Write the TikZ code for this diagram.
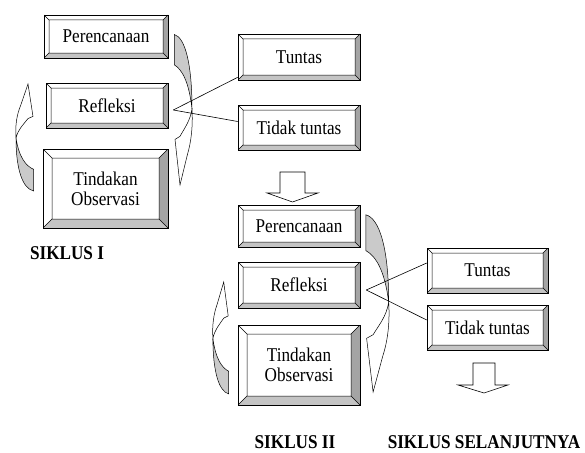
\documentclass[tikz,border=0pt]{standalone}
\usepackage{fontspec}
\setmainfont[FakeStretch=0.88]{Liberation Serif}
\usetikzlibrary{positioning}

\definecolor{bevelside}{HTML}{A4A4A4}
\definecolor{bevelbase}{HTML}{C4C4C4}
\definecolor{bendgray}{HTML}{CACACA}

\begin{document}
\begin{tikzpicture}[x=1pt, y=-1pt]
        % Define styles
        \tikzset{
            box/.style={draw, fill=white, line width=0.6pt, inner sep=0pt, align=center,
                font=\fontsize{19.5}{20}\selectfont},
            bevel/.style={path picture={
                \coordinate (bvnw) at (path picture bounding box.north west);
                \coordinate (bvne) at (path picture bounding box.north east);
                \coordinate (bvse) at (path picture bounding box.south east);
                \coordinate (bvsw) at (path picture bounding box.south west);
                \coordinate (innw) at ([shift={(#1,-#1)}]bvnw);
                \coordinate (inne) at ([shift={(-#1,-#1)}]bvne);
                \coordinate (inse) at ([shift={(-#1,#1)}]bvse);
                \coordinate (insw) at ([shift={(#1,#1)}]bvsw);
                \fill[bevelside] (bvne) -- (bvse) -- (inse) -- (inne) -- cycle;
                \fill[bevelbase] (bvsw) -- (bvse) -- (inse) -- (insw) -- cycle;
                \draw[line width=0.5pt] (innw) rectangle (inse)
                    (bvnw) -- (innw) (bvne) -- (inne) (bvse) -- (inse) (bvsw) -- (insw);
            }},
            cyclelabel/.style={font=\fontsize{19.5}{20}\selectfont\bfseries, inner sep=0pt},
            link/.style={line width=0.6pt},
            downarrow/.style={draw, fill=white, line width=0.6pt},
            bendarrow/.pic={
                \filldraw[fill=bendgray, line width=0.5pt] (0.07,0.01) .. controls (0.6,0.03) and (0.95,0.2) .. (0.95,0.5)
                    .. controls (0.8,0.32) and (0.45,0.24) .. (0.07,0.21) -- cycle;
                \filldraw[fill=white, line width=0.5pt] (0.95,0.5) .. controls (1.0,0.62) and (0.9,0.72) .. (0.72,0.8)
                    -- (0.35,1) -- (0.1,0.7) -- (0.35,0.68) .. controls (0.6,0.62) and (0.85,0.58) .. cycle;
            }
        }
        \useasboundingbox (0,0) rectangle (585,452);
        % Siklus I
        \node[box, bevel=5pt, minimum width=124pt, minimum height=43pt] (plan1) at (106,36.5) {Perencanaan};
        \node[box, bevel=5pt, minimum width=122pt, minimum height=45pt] (refl1) at (107,105.5) {Refleksi};
        \node[box, bevel=9pt, minimum width=125pt, minimum height=79pt] (act1) at (105.5,188.5) {Tindakan\\Observasi};
        \node[box, bevel=5pt, minimum width=122pt, minimum height=46pt] (tuntas1) at (299,57) {Tuntas};
        \node[box, bevel=5pt, minimum width=122pt, minimum height=45pt] (tidak1) at (299,127.5) {Tidak tuntas};
        \node[cyclelabel] (siklus1) at (67,253.5) {SIKLUS I};
        % curved arrows of the cycle
        \pic[shift={(173,33)}, xscale=20, yscale=152] {bendarrow};
        \pic[shift={(35,192)}, xscale=-20, yscale=-108] {bendarrow};
        % Branch from Refleksi
        \coordinate (apex1) at ([shift={(5pt,-4.5pt)}]refl1.east);
        \draw[link] (apex1) -- ([yshift=3pt]tuntas1.south west);
        \draw[link] (apex1) -- ([yshift=6pt]tidak1.west);
        % Arrow down to next cycle
        \draw[downarrow] (280,172) -- (305,172) -- (305,193) -- (318,193) -- (292.5,202) -- (267,193) -- (280,193) -- cycle;
        % Siklus II
        \node[box, bevel=5pt, minimum width=122pt, minimum height=42pt] (plan2) at (299,226) {Perencanaan};
        \node[box, bevel=5pt, minimum width=122pt, minimum height=46pt] (refl2) at (299,285) {Refleksi};
        \node[box, bevel=9pt, minimum width=122pt, minimum height=80pt] (act2) at (299,365) {Tindakan\\Observasi};
        \node[box, bevel=5pt, minimum width=121pt, minimum height=45pt] (tuntas2) at (487.5,270.5) {Tuntas};
        \node[box, bevel=5pt, minimum width=121pt, minimum height=45pt] (tidak2) at (487.5,327.5) {Tidak tuntas};
        \node[cyclelabel] (siklus2) at (295,442.5) {SIKLUS II};
        \node[cyclelabel] (siklus3) at (484,442.5) {SIKLUS SELANJUTNYA};
        \pic[shift={(364,213)}, xscale=26, yscale=179] {bendarrow};
        \pic[shift={(230,395)}, xscale=-18, yscale=-113] {bendarrow};
        \coordinate (apex2) at ([shift={(6pt,-5pt)}]refl2.east);
        \draw[link] (apex2) -- ([yshift=7.5pt]tuntas2.west);
        \draw[link] (apex2) -- ([yshift=7.5pt]tidak2.west);
        \draw[downarrow] (473,363) -- (495,363) -- (495,385) -- (508,385) -- (484,393) -- (458,385) -- (473,385) -- cycle;
    \end{tikzpicture}
\end{document}
